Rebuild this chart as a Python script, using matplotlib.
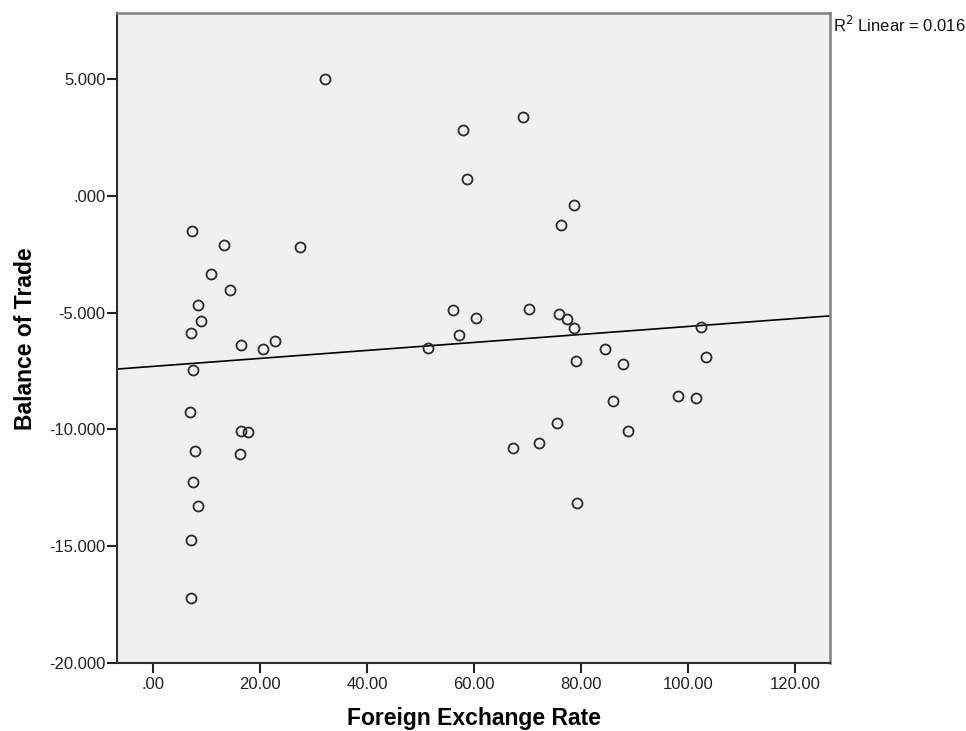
import numpy as np
import matplotlib
matplotlib.use("Agg")
import matplotlib.pyplot as plt

# Foreign exchange rate vs. balance of trade (one point per observation)
exchange_rate = [
    7.23, 13.27, 27.42, 32.15, 10.79, 14.34, 8.36, 8.97, 7.05, 16.39,
    20.50, 22.80, 7.36, 6.92, 16.39, 17.70, 7.74, 16.21, 7.48, 8.30,
    7.05, 7.05,
    57.94, 69.16, 58.69, 78.69, 76.15, 56.02, 60.26, 57.08, 51.29, 70.22,
    75.83, 77.33, 78.58, 84.43, 79.10, 87.83, 85.98, 75.46, 88.77, 72.04,
    67.23, 79.20, 102.32, 103.27, 98.13, 101.40,
]
balance_of_trade = [
    -1.50, -2.11, -2.18, 4.97, -3.35, -4.03, -4.67, -5.37, -5.86, -6.39,
    -6.56, -6.21, -7.46, -9.26, -10.06, -10.12, -10.92, -11.04, -12.23, -13.28,
    -14.71, -17.21,
    2.82, 3.38, 0.70, -0.38, -1.27, -4.89, -5.22, -5.96, -6.53, -4.85,
    -5.07, -5.29, -5.65, -6.54, -7.08, -7.21, -8.79, -9.73, -10.08, -10.56,
    -10.79, -13.13, -5.60, -6.91, -8.56, -8.67,
]
r_squared = 0.016

x_ticks = [0, 20, 40, 60, 80, 100, 120]
x_tick_labels = [".00", "20.00", "40.00", "60.00", "80.00", "100.00", "120.00"]
y_ticks = [5, 0, -5, -10, -15, -20]
y_tick_labels = ["5.000", ".000", "-5.000", "-10.000", "-15.000", "-20.000"]

plt.rcParams["font.family"] = ["Liberation Sans", "DejaVu Sans"]

fig = plt.figure(figsize=(9.66, 7.31), dpi=100)
ax = fig.add_axes([0.1214, 0.0926, 0.7383, 0.8892])
ax.set_facecolor("#F0F0F0")

xlim = (-6.73, 126.58)
ylim = (-20.0, 7.80)
ax.set_xlim(*xlim)
ax.set_ylim(*ylim)

# least-squares fit line across the whole x range
x = np.asarray(exchange_rate)
y = np.asarray(balance_of_trade)
slope, intercept = np.polyfit(x, y, 1)
line_x = np.array(xlim)
ax.plot(line_x, intercept + slope * line_x, color="black", lw=1.2, zorder=2)

ax.plot(x, y, linestyle="none", marker="o", markersize=7.2,
        markerfacecolor="none", markeredgecolor="#2b2b2b",
        markeredgewidth=1.3, zorder=3)

ax.set_xticks(x_ticks)
ax.set_xticklabels(x_tick_labels)
ax.set_yticks(y_ticks)
ax.set_yticklabels(y_tick_labels)
ax.tick_params(axis="both", direction="out", length=7, width=1.5,
               color="#222222", labelsize=12, labelcolor="#222222")
ax.tick_params(axis="y", pad=1.5)
ax.tick_params(axis="x", pad=3)

for side in ("left", "bottom"):
    ax.spines[side].set_color("#2e2e2e")
    ax.spines[side].set_linewidth(1.5)
for side in ("top", "right"):
    ax.spines[side].set_color("#808080")
    ax.spines[side].set_linewidth(1.8)

ax.set_xlabel("Foreign Exchange Rate", fontsize=16.5, fontweight="bold",
              labelpad=10.5)
ax.set_ylabel("Balance of Trade", fontsize=16.5, fontweight="bold",
              labelpad=9)

fig.text(0.862, 0.9558, f"R$^2$ Linear = {r_squared:.3f}", fontsize=12,
         ha="left", va="baseline", color="#111111")

fig.savefig("out.png", dpi=100)
